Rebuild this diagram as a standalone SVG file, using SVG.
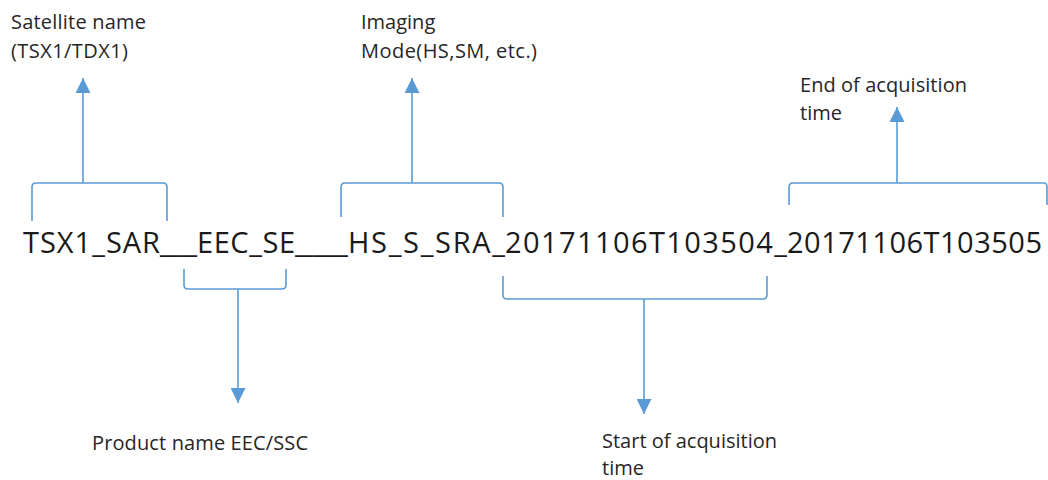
<svg xmlns="http://www.w3.org/2000/svg" width="1048" height="480" viewBox="0 0 1048 480">
  <defs>
    <style>
      .lbl { font-family: "Open Sans", "Liberation Sans", sans-serif; font-size: 20px; fill: #262626; }
      .main { font-family: "Open Sans", "Liberation Sans", sans-serif; font-size: 29px; fill: #1a1a1a; }
      .br { fill: none; stroke: #5B9BD5; stroke-width: 1.6; stroke-linejoin: round; }
      .ar { fill: none; stroke: #5B9BD5; stroke-width: 1.6; marker-end: url(#head); }
    </style>
    <marker id="head" viewBox="0 0 15 15" refX="15" refY="7.5" markerWidth="15" markerHeight="15" markerUnits="userSpaceOnUse" orient="auto">
      <path d="M0,0 L15,7.5 L0,15 z" fill="#5B9BD5"/>
    </marker>
  </defs>
  <rect width="1048" height="480" fill="#ffffff"/>

  <g id="filename">
    <text class="main" y="253"><tspan x="23" textLength="137">TSX1_SAR</tspan><tspan x="160" textLength="37" lengthAdjust="spacingAndGlyphs">__</tspan><tspan x="197" textLength="98">EEC_SE</tspan><tspan x="295" textLength="53" lengthAdjust="spacingAndGlyphs">___</tspan><tspan x="348" textLength="157">HS_S_SRA_</tspan><tspan x="505" textLength="282">20171106T103504_</tspan><tspan x="787" textLength="255">20171106T103505</tspan></text>
  </g>

  <g id="satellite-name">
    <text class="lbl" x="11" y="29" textLength="135">Satellite name</text>
    <text class="lbl" x="11" y="58" textLength="117">(TSX1/TDX1)</text>
  </g>
  <g id="imaging-mode">
    <text class="lbl" x="361" y="29">Imaging</text>
    <text class="lbl" x="361" y="58" textLength="176">Mode(HS,SM, etc.)</text>
  </g>
  <g id="end-time">
    <text class="lbl" x="800" y="92" textLength="167">End of acquisition</text>
    <text class="lbl" x="800" y="120">time</text>
  </g>
  <g id="product-name">
    <text class="lbl" x="92" y="450" textLength="216">Product name EEC/SSC</text>
  </g>
  <g id="start-time">
    <text class="lbl" x="602" y="448" textLength="175">Start of acquisition</text>
    <text class="lbl" x="602" y="475">time</text>
  </g>

  <g id="connectors">
    <path class="br" d="M32,221 L32,187 Q32,183 36,183 L163,183 Q167,183 167,187 L167,221"/>
    <line class="ar" x1="83" y1="183" x2="83" y2="78"/>
    <path class="br" d="M341,217 L341,187 Q341,183 345,183 L499,183 Q503,183 503,187 L503,217"/>
    <line class="ar" x1="412" y1="183" x2="412" y2="78"/>
    <path class="br" d="M789,205 L789,187 Q789,183 793,183 L1044,183 Q1047,183 1047,187 L1047,205"/>
    <line class="ar" x1="897" y1="183" x2="897" y2="107"/>
    <path class="br" d="M184,269 L184,285 Q184,289 188,289 L282,289 Q286,289 286,285 L286,269"/>
    <line class="ar" x1="238" y1="289" x2="238" y2="403"/>
    <path class="br" d="M503,276 L503,295 Q503,299 507,299 L763,299 Q767,299 767,295 L767,276"/>
    <line class="ar" x1="644" y1="299" x2="644" y2="414"/>
  </g>
</svg>
